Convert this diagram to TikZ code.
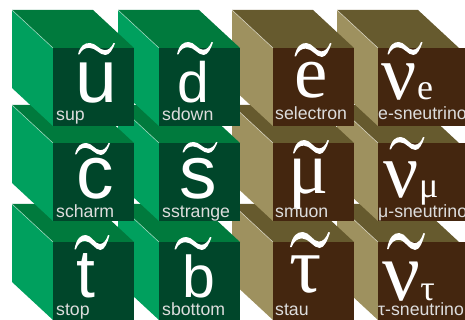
\documentclass[tikz,border=0pt]{standalone}
\usepackage{fontspec}
\setmainfont{Liberation Serif}
\setsansfont{Liberation Sans}
\usetikzlibrary{calc}

\definecolor{sqtop}{HTML}{007A3D}
\definecolor{sqside}{HTML}{00A05E}
\definecolor{sqfront}{HTML}{00462A}
\definecolor{sltop}{HTML}{665A2E}
\definecolor{slside}{HTML}{9E915F}
\definecolor{slfront}{HTML}{44260F}
\definecolor{labelgray}{HTML}{DDDDDD}

\tikzset{
	letterS/.style={text=white, inner sep=0pt, anchor=base,
		font=\sffamily\fontsize{#1}{#1}\selectfont},
	letterR/.style={text=white, inner sep=0pt, anchor=base,
		font=\rmfamily\fontsize{#1}{#1}\selectfont},
	namelabel/.style={text=labelgray, inner sep=0pt, anchor=base west,
		font=\sffamily\fontsize{17.7}{17.7}\selectfont},
	edgeline/.style={draw=white, draw opacity=0.55, line width=0.6pt}
}

% one cube: front face corner (#2,#3), colour family #4, front width #1
\newcommand{\drawcube}[4][81]{%
	\fill[#4top] (#2-41,#3-38) -- (#2+40,#3-38) -- (#2+81,#3) -- (#2,#3) -- cycle;
	\fill[#4side] (#2-41,#3-38) -- (#2,#3) -- (#2,#3+78) -- (#2-41,#3+40) -- cycle;
	\fill[#4front] (#2,#3) rectangle (#2+#1,#3+78);
	\draw[edgeline] (#2-41,#3-38) -- (#2,#3);
}
% tilde accent: centre, width, height
\newcommand{\tildemark}[4]{%
	\fill[white, shift={(#1,#2)}, xscale=#3, yscale=-#4]
	(-0.5,-0.45) .. controls (-0.44,0.3) and (-0.32,0.5) .. (-0.18,0.5)
	.. controls (-0.02,0.5) and (0.08,-0.1) .. (0.22,-0.1)
	.. controls (0.32,-0.1) and (0.4,0.1) .. (0.46,0.5)
	-- (0.5,0.47)
	.. controls (0.44,0.0) and (0.36,-0.5) .. (0.24,-0.5)
	.. controls (0.08,-0.5) and (-0.02,0.1) .. (-0.2,0.1)
	.. controls (-0.3,0.1) and (-0.4,-0.05) .. (-0.46,-0.45) -- cycle;
}

\begin{document}
\begin{tikzpicture}[x=1pt, y=-1pt]
	\useasboundingbox (0,0) rectangle (465,320);
	\clip (0,0) rectangle (465,320);

	% cubes, back to front
	\foreach \T in {242,143,48} {
		\foreach \F/\fam/\W in {378/sl/90,273/sl/81,159/sq/81,53/sq/81} {
			\drawcube[\W]{\F}{\T}{\fam}
		}
	}

	% squarks and sleptons, first row
	\node[letterS=75] (u) at (96.5,103) {u};
	\node[letterS=57] (d) at (193,103) {d};
	\node[letterR=75] (e) at (311,98) {e};
	\node[letterR=78] (nue) at (399,100) {ν};
	\node[letterR=36, anchor=base west] (nuesub) at (nue.base east) {e};
	\tildemark{96.5}{49}{37}{12}
	\tildemark{195}{48.5}{36}{13}
	\tildemark{313}{50}{37}{14}
	\tildemark{405}{48.5}{35}{13}

	% second row
	\node[letterS=75] (c) at (95,199) {c};
	\node[letterS=75] (s) at (198,199) {s};
	\node[letterR=75] (mu) at (309,194) {μ};
	\node[letterR=78] (numu) at (401,197) {ν};
	\node[letterR=36, anchor=base west] (numusub) at (numu.base east) {μ};
	\tildemark{92.5}{149}{35}{12}
	\tildemark{200}{147.5}{35}{11}
	\tildemark{311}{147}{36}{14}
	\tildemark{407}{143.5}{35}{13}

	% third row
	\node[letterS=68] (t) at (86,297) {t};
	\node[letterS=59] (b) at (199,297) {b};
	\node[letterR=80] (tau) at (306,292) {τ};
	\node[letterR=84] (nutau) at (401,300) {ν};
	\node[letterR=36, anchor=base west] (nutausub) at (nutau.base east) {τ};
	\tildemark{92}{242.5}{35}{15}
	\tildemark{193}{243.5}{37}{13}
	\tildemark{310}{240}{40}{16}
	\tildemark{406}{241.5}{38}{17}

	% names
	\node[namelabel] (sup) at (56,121) {sup};
	\node[namelabel] (sdown) at (162,121) {sdown};
	\node[namelabel] (selectron) at (275,120) {selectron};
	\node[namelabel] (esneutrino) at (378,120) {e-sneutrino};
	\node[namelabel] (scharm) at (56,217) {scharm};
	\node[namelabel] (sstrange) at (162,217) {sstrange};
	\node[namelabel] (smuon) at (275,217) {smuon};
	\node[namelabel] (musneutrino) at (378,217) {μ-sneutrino};
	\node[namelabel] (stop) at (56,315) {stop};
	\node[namelabel] (sbottom) at (162,315) {sbottom};
	\node[namelabel] (stau) at (275,315) {stau};
	\node[namelabel] (tausneutrino) at (378,315) {τ-sneutrino};
\end{tikzpicture}
\end{document}
